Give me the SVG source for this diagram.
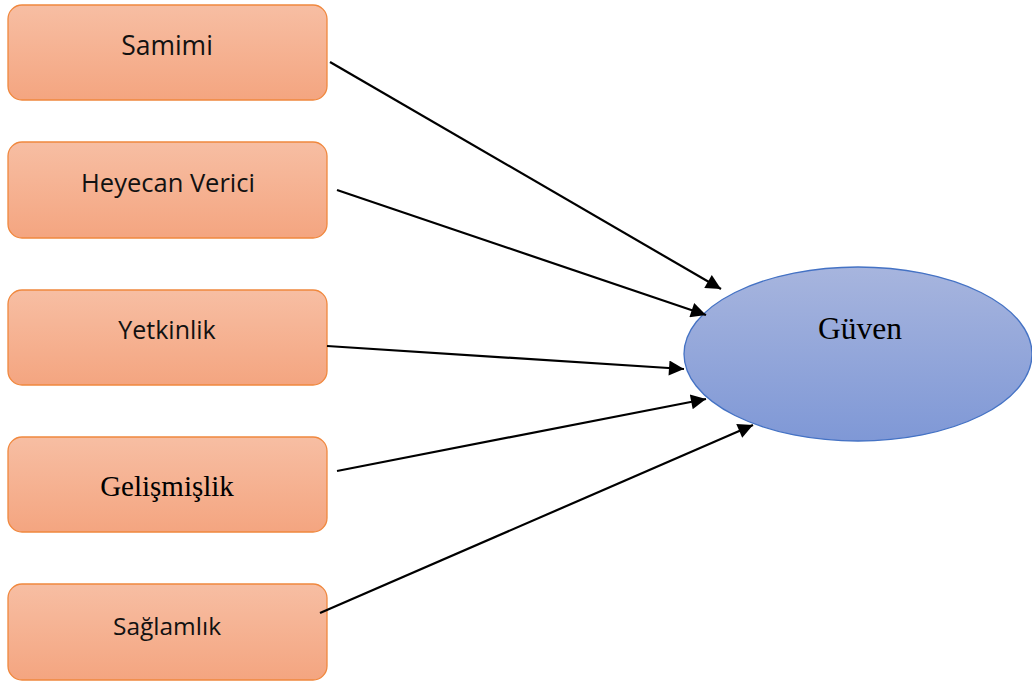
<svg xmlns="http://www.w3.org/2000/svg" width="1032" height="684" viewBox="0 0 1032 684">
  <style>
    .box { fill: url(#boxFill); stroke: #F0883E; stroke-width: 1.3; }
    .sans { font-family: "Open Sans", "Noto Sans", "DejaVu Sans", sans-serif; fill: #111; text-anchor: middle; }
    .serif { font-family: "Liberation Serif", "Times New Roman", serif; fill: #000; text-anchor: middle; }
  </style>
  <defs>
    <linearGradient id="boxFill" x1="0" y1="0" x2="0" y2="1">
      <stop offset="0" stop-color="#F7BEA3"/>
      <stop offset="1" stop-color="#F4A580"/>
    </linearGradient>
    <linearGradient id="ovalFill" x1="0" y1="0" x2="0" y2="1">
      <stop offset="0" stop-color="#A7B5DE"/>
      <stop offset="1" stop-color="#7F98D6"/>
    </linearGradient>
    <marker id="arrowHead" viewBox="0 0 10 10" refX="10" refY="5" markerWidth="19" markerHeight="15" markerUnits="userSpaceOnUse" orient="auto">
      <path d="M0,0 L10,5 L0,10 Z" fill="#000"/>
    </marker>
  </defs>

  <g id="node-samimi">
    <rect class="box" x="8" y="5" width="319" height="95" rx="14"/>
    <text class="sans" x="167" y="55" font-size="26.5">Samimi</text>
  </g>
  <g id="node-heyecan-verici">
    <rect class="box" x="8" y="142" width="319" height="96" rx="14"/>
    <text class="sans" x="168" y="192" font-size="25.5">Heyecan Verici</text>
  </g>
  <g id="node-yetkinlik">
    <rect class="box" x="8" y="290" width="319" height="95" rx="14"/>
    <text class="sans" x="167" y="339" font-size="25">Yetkinlik</text>
  </g>
  <g id="node-gelismislik">
    <rect class="box" x="8" y="437" width="319" height="95" rx="14"/>
    <text class="serif" x="167" y="496" font-size="29">Gelişmişlik</text>
  </g>
  <g id="node-saglamlik">
    <rect class="box" x="8" y="584" width="319" height="96" rx="14"/>
    <text class="sans" x="167" y="635" font-size="24.5">Sağlamlık</text>
  </g>

  <g id="node-guven">
    <ellipse cx="858" cy="354" rx="174" ry="87" fill="url(#ovalFill)" stroke="#4472C4" stroke-width="1.3"/>
    <text class="serif" x="860" y="339" font-size="31.5">Güven</text>
  </g>

  <g id="connectors" stroke="#000" stroke-width="2.2" fill="none">
    <line x1="330" y1="62" x2="721" y2="289" marker-end="url(#arrowHead)"/>
    <line x1="337" y1="190" x2="706" y2="315" marker-end="url(#arrowHead)"/>
    <line x1="327" y1="346" x2="684" y2="369" marker-end="url(#arrowHead)"/>
    <line x1="337" y1="471" x2="706" y2="399" marker-end="url(#arrowHead)"/>
    <line x1="320" y1="613" x2="753" y2="425" marker-end="url(#arrowHead)"/>
  </g>
</svg>
